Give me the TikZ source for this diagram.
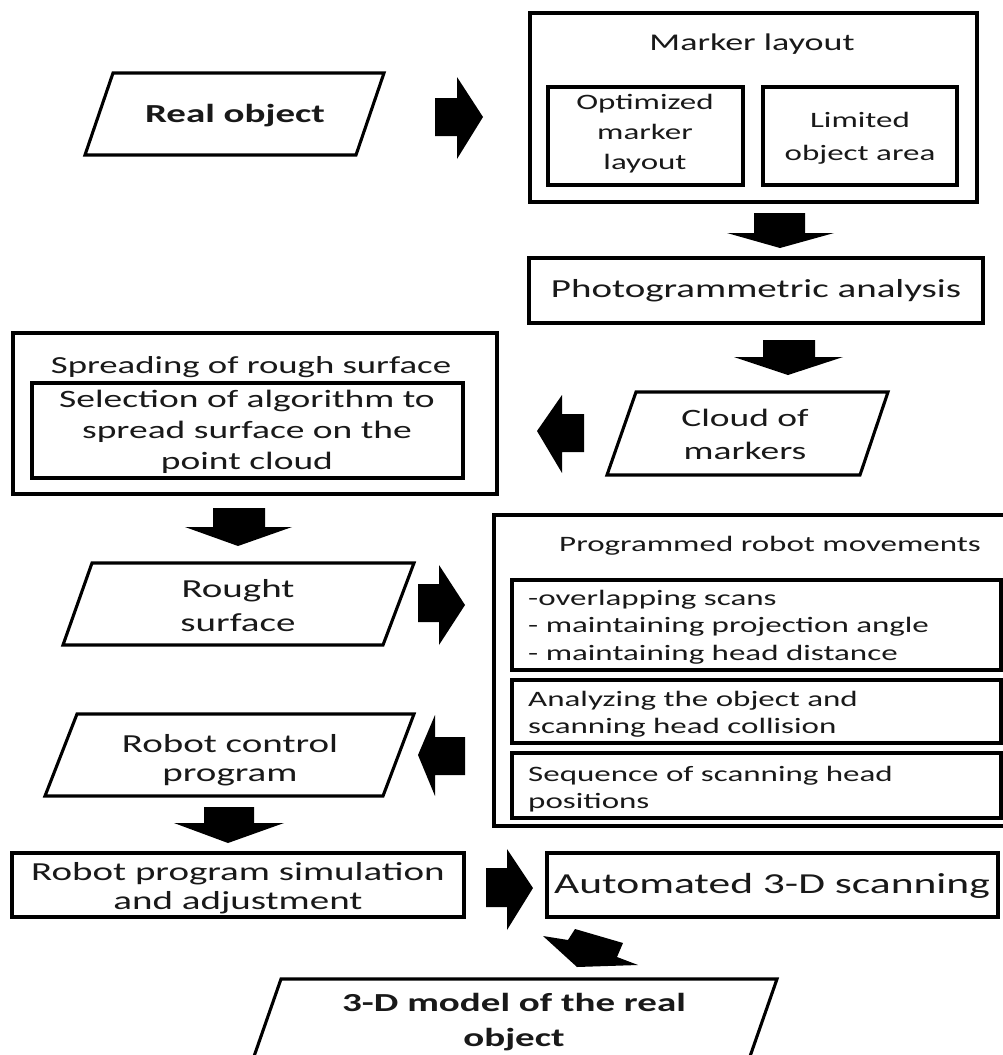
\documentclass[tikz,border=0pt]{standalone}
\usepackage{fontspec}
\setmainfont{Carlito}[FakeStretch=1.5]
\newcommand\myfs[2]{\fontsize{#1}{#2}\selectfont}
\begin{document}
\begin{tikzpicture}[x=1pt,y=-1pt,
  box/.style={draw=black, line width=3.1pt},
  blk/.style={fill=black},
  lbl/.style={inner sep=0pt, align=center, text=black!90}]
\useasboundingbox (0,0) rectangle (1003,1055);
\clip (0,0) rectangle (1003,1055);
\fill[white] (0,0) rectangle (1003,1055);

% ---------- Real object
\draw[box] (113,73) -- (384,73) -- (356,155) -- (85,155) -- cycle;
\node[lbl, font={\myfs{26}{32}\bfseries}] (real) at (235,116) {Real object};

% ---------- Marker layout
\draw[box] (530,13) rectangle (977,202);
\node[lbl, font={\myfs{24}{30}}] (marker) at (752,44) {Marker layout};
\draw[box] (548,87) rectangle (743,185);
\node[lbl, font={\myfs{22}{30}}] (opt) at (645,134) {Optimized\\marker\\layout};
\draw[box] (763,87) rectangle (957,185);
\node[lbl, font={\myfs{22}{33}}] (lim) at (860,138) {Limited\\object area};

% ---------- Photogrammetric analysis
\draw[box] (529,258) rectangle (983,323);
\node[lbl, font={\myfs{26}{32}}] (photo) at (756,291) {Photogrammetric analysis};

% ---------- Cloud of markers
\draw[box] (636,392) -- (888,392) -- (860,475) -- (607,475) -- cycle;
\node[lbl, font={\myfs{25}{33}}] (cloud) at (745,434) {Cloud of\\markers};

% ---------- Spreading of rough surface
\draw[box] (13,333) rectangle (497,494);
\node[lbl, font={\myfs{24.5}{30}}] (spread) at (251,367) {Spreading of rough surface};
\draw[box] (32,383) rectangle (463,478);
\node[lbl, font={\myfs{25}{31}}] (select) at (247,432) {Selection of algorithm to\\spread surface on the\\point cloud};

% ---------- Rought surface
\draw[box] (92,563) -- (414,563) -- (383,645) -- (63,645) -- cycle;
\node[lbl, font={\myfs{26}{34}}] (rough) at (238,606) {Rought\\surface};

% ---------- Robot control program
\draw[box] (77,714) -- (414,714) -- (383,796) -- (45,796) -- cycle;
\node[lbl, font={\myfs{26}{29}}] (control) at (230,760) {Robot control\\program};

% ---------- Programmed robot movements
\draw[box] (494,515) rectangle (1012,826);
\node[lbl, font={\myfs{22}{28}}] (prog) at (770,546) {Programmed robot movements};
\draw[box] (512,580) rectangle (1001,670);
\node[lbl, anchor=west, align=left, font={\myfs{22}{27.5}}] (sub1) at (528,627) {-overlapping scans\\- maintaining projection angle\\- maintaining head distance};
\draw[box] (512,680) rectangle (1001,743);
\node[lbl, anchor=west, align=left, font={\myfs{22}{27.5}}] (sub2) at (528,714) {Analyzing the object and\\scanning head collision};
\draw[box] (512,753) rectangle (1001,818);
\node[lbl, anchor=west, align=left, font={\myfs{22}{27.5}}] (sub3) at (528,789) {Sequence of scanning head\\positions};

% ---------- Robot program simulation
\draw[box] (12,853) rectangle (464,917);
\node[lbl, font={\myfs{26}{29}}] (sim) at (238,888) {Robot program simulation\\and adjustment};

% ---------- Automated 3-D scanning
\draw[box] (547,853) rectangle (998,917);
\node[lbl, font={\myfs{29}{34}}] (auto) at (772,886) {Automated 3-D scanning};

% ---------- 3-D model
\draw[box] (281,979) -- (777,979) -- (747,1065) -- (251,1065) -- cycle;
\node[lbl, font={\myfs{26}{35}\bfseries}] (model) at (514,1022) {3-D model of the real\\object};

% ---------- block arrows
% real -> marker
\fill[blk] (435,98) -- (457,98) -- (457,77) -- (483,117) -- (457,159) -- (457,136) -- (435,136) -- cycle;
% marker -> photo
\fill[blk] (754,213) -- (805,213) -- (805,233) -- (834,233) -- (780,248) -- (727,233) -- (754,233) -- cycle;
% photo -> cloud
\fill[blk] (763,340) -- (815,340) -- (815,357) -- (843,357) -- (788,375) -- (734,357) -- (763,357) -- cycle;
% cloud -> spread
\fill[blk] (584,414) -- (562,414) -- (562,395) -- (537,431) -- (562,473) -- (562,452) -- (584,452) -- cycle;
% spread -> rough
\fill[blk] (213,508) -- (265,508) -- (265,527) -- (292,527) -- (238,546) -- (185,527) -- (213,527) -- cycle;
% rough -> prog
\fill[blk] (418,584) -- (439,584) -- (439,565) -- (465,605) -- (439,645) -- (439,622) -- (418,622) -- cycle;
% prog -> control
\fill[blk] (465,737) -- (435,737) -- (435,715) -- (418,755) -- (435,796) -- (435,775) -- (465,775) -- cycle;
% control -> sim
\fill[blk] (204,807) -- (254,807) -- (254,823) -- (284,823) -- (228,843) -- (174,823) -- (204,823) -- cycle;
% sim -> auto
\fill[blk] (486,868) -- (507,868) -- (507,849) -- (533,888) -- (507,930) -- (507,907) -- (486,907) -- cycle;
% auto -> model
\fill[blk] (543,936) -- (568,940) -- (575,929) -- (623,943) -- (617,957) -- (638,965) -- (577,967) -- cycle;
\end{tikzpicture}
\end{document}
